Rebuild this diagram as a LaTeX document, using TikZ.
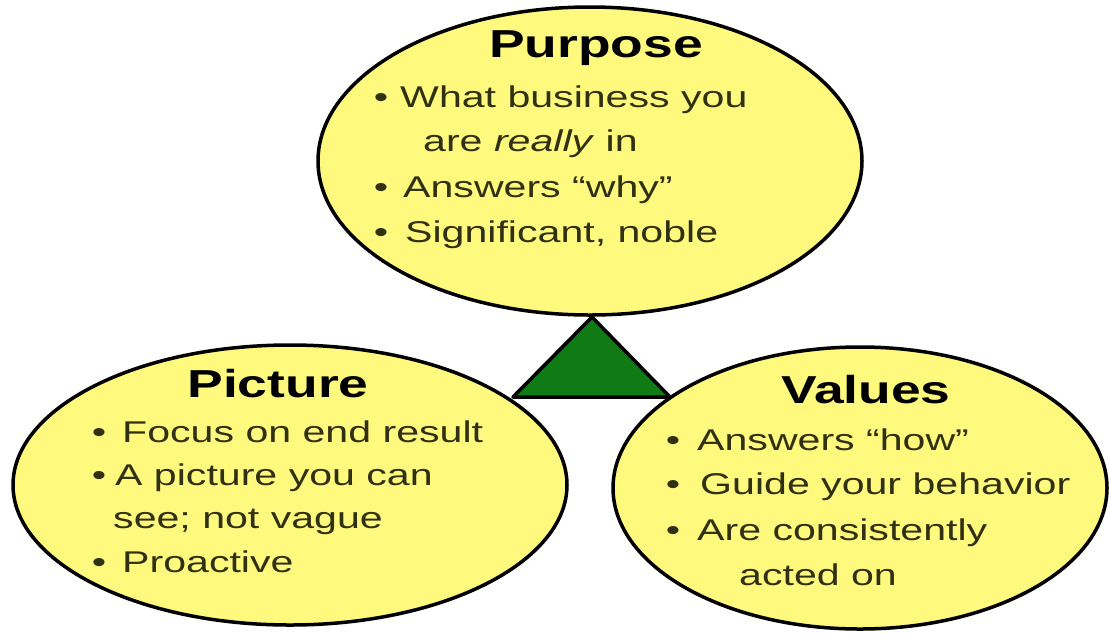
\documentclass[tikz,border=0pt]{standalone}
\usepackage{fontspec}
\setmainfont{Liberation Sans}[FakeStretch=1.37]

\definecolor{padyellow}{RGB}{255,250,125}
\definecolor{leafgreen}{RGB}{16,122,20}
\definecolor{ink}{RGB}{48,48,18}

\tikzset{
  pad/.style={draw=black, line width=3.5pt, fill=padyellow},
  wedge/.style={draw=black, line width=3.5pt, fill=leafgreen, line join=round},
  head/.style={font=\bfseries\fontsize{39}{39}\selectfont, anchor=base, inner sep=0pt, text=black},
  item/.style={font=\fontsize{30}{30}\selectfont, anchor=base west, inner sep=0pt, text=ink},
  dot/.style={font=\fontsize{30}{30}\selectfont, anchor=base, inner sep=0pt, text=ink}
}

\begin{document}
\begin{tikzpicture}[x=1pt,y=-1pt]

\useasboundingbox (0,0) rectangle (1109,633);

\coordinate (purpose) at (590,161);
\coordinate (picture) at (290,485);
\coordinate (values) at (860,488);

\draw[pad] (purpose) ellipse [x radius=272pt, y radius=154pt];
\draw[pad] (picture) ellipse [x radius=277pt, y radius=140pt];
\draw[pad] (values) ellipse [x radius=247pt, y radius=141pt];

\coordinate (top) at (592,317);
\coordinate (left) at (513,397);
\coordinate (right) at (670,397);

\draw[wedge] (top) -- (left) -- (right) -- cycle;

\node[head] (purposehead) at (596,57) {Purpose};
\node[head] (picturehead) at (278,397) {Picture};
\node[head] (valueshead) at (866,403) {Values};

\foreach \x/\y [count=\i] in {381/107,381/197,381/242,99/442,99/485,99/572,673/450,673/494,673/540}
    \node[dot] (dot\i) at (\x,\y) {•};

\foreach \x/\y/\t [count=\i] in {
    400/107/{What business you},
    423/151/{are \textit{really} in},
    403/197/{Answers “why”},
    405/242/{Significant, noble},
    122/442/{Focus on end result},
    115/485/{A picture you can},
    113/528/{see; not vague},
    122/572/{Proactive},
    697/450/{Answers “how”},
    700/494/{Guide your behavior},
    697/540/{Are consistently},
    739/585/{acted on}}
    \node[item] (line\i) at (\x,\y) {\t};

\end{tikzpicture}
\end{document}
